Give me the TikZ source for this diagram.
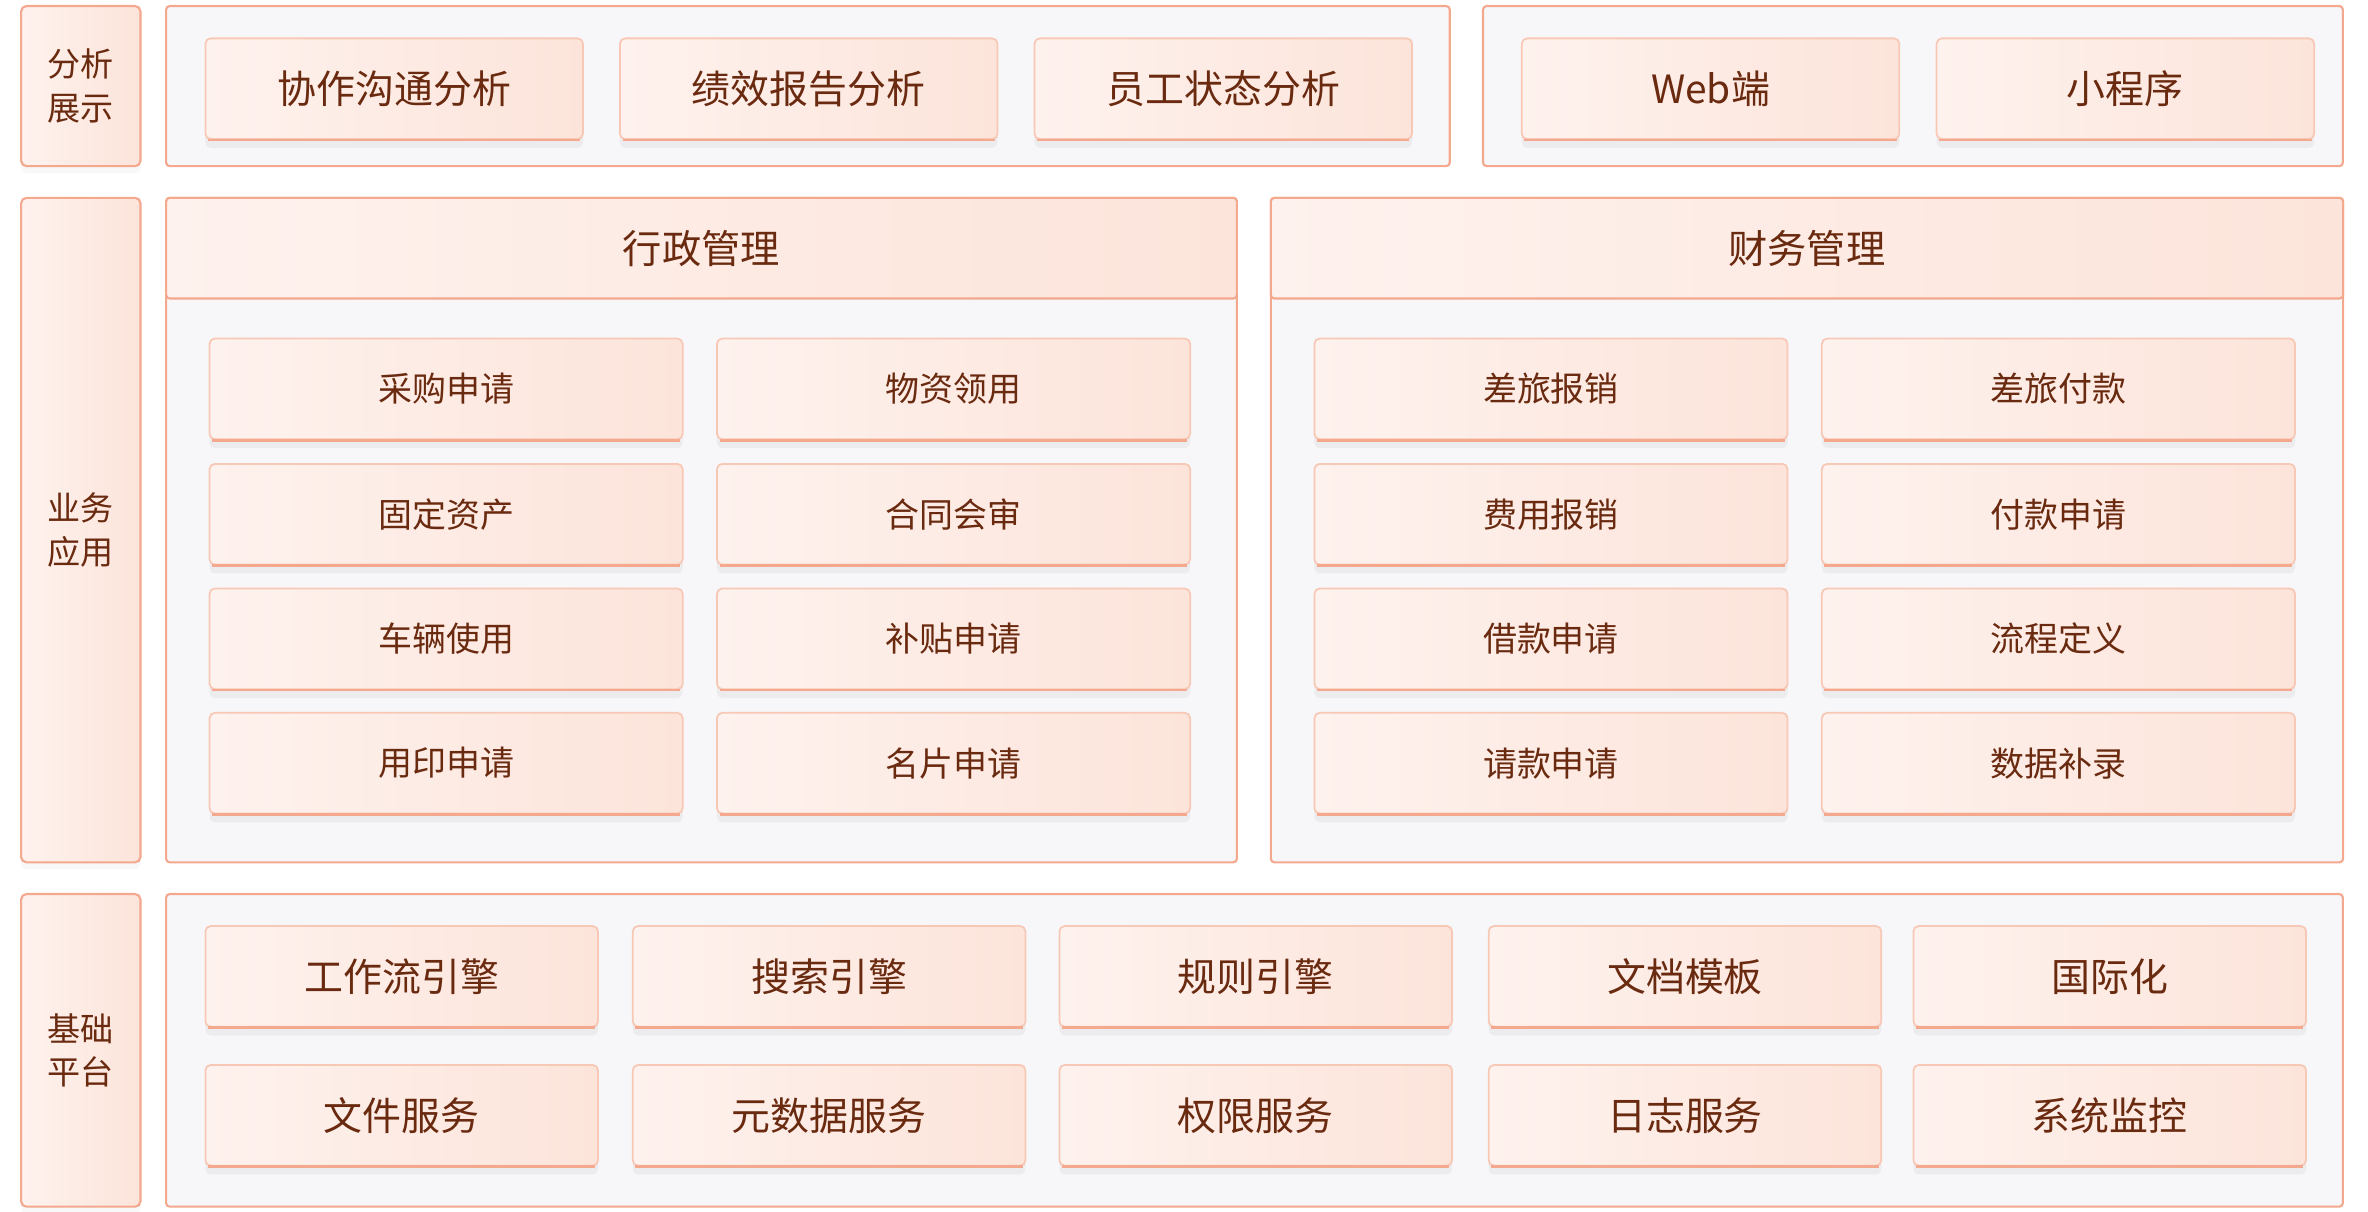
\documentclass[tikz,border=0pt]{standalone}
\usepackage{fontspec}
\newfontfamily\cjk{Noto Sans CJK SC}
\usetikzlibrary{shadows}

\definecolor{edgeline}{HTML}{F4A88E}
\definecolor{cardline}{HTML}{F8C8B6}
\definecolor{panelbg}{HTML}{F7F7F9}
\definecolor{cardA}{HTML}{FEF2EE}
\definecolor{cardB}{HTML}{FCE4DA}
\definecolor{ink}{HTML}{6A2A10}

\tikzset{
  panel/.style={draw=edgeline, fill=panelbg, rounded corners=1pt, inner sep=0pt},
  side/.style={draw=edgeline, left color=cardA, right color=cardB, rounded corners=1.5pt,
    minimum width=1.185cm, inner sep=0pt, align=center, text=ink,
    font=\cjk\fontsize{9.35}{12.4}\selectfont,
    drop shadow={opacity=.06, shadow xshift=0pt, shadow yshift=-2pt}},
  head/.style={draw=edgeline, left color=cardA, right color=cardB, rounded corners=1pt,
    minimum height=1cm, inner sep=0pt, text=ink, font=\cjk\fontsize{11.1}{13}\selectfont},
  card/.style={draw=cardline, line width=.5pt, left color=cardA, right color=cardB,
    rounded corners=1.5pt, inner sep=0pt, minimum height=1cm, text=ink,
    drop shadow={opacity=.09, shadow xshift=0pt, shadow yshift=-2.5pt},
    append after command={(\tikzlastnode.south west) edge[draw=edgeline, line width=.8pt,
      shorten <=1pt, shorten >=1pt] (\tikzlastnode.south east)}},
  bigcard/.style={card, minimum width=3.75cm, font=\cjk\fontsize{11}{13}\selectfont},
  appcard/.style={card, minimum width=4.7cm, font=\cjk\fontsize{9.6}{12}\selectfont},
  basecard/.style={card, minimum width=3.9cm, font=\cjk\fontsize{11}{13}\selectfont},
}

\begin{document}
\begin{tikzpicture}[line width=.6pt]
        \useasboundingbox (0,0) rectangle (23.52,-12.03);
        \pgfmathsetmacro{\ya}{-0.855}
        \pgfmathsetmacro{\yb}{-5.265}
        \pgfmathsetmacro{\yc}{-10.4325}
        \pgfmathsetmacro{\ra}{-3.8625}
        \pgfmathsetmacro{\rb}{-5.1075}
        \pgfmathsetmacro{\rc}{-6.345}
        \pgfmathsetmacro{\rd}{-7.58}

        % left column
        \node[side, minimum height=1.59cm] (S1) at (0.8025,\ya) {分析\\展示};
        \node[side, minimum height=6.6cm] (S2) at (0.8025,\yb) {业务\\应用};
        \node[side, minimum height=3.105cm] (S3) at (0.8025,\yc) {基础\\平台};

        % panels
        \node[panel, minimum width=12.75cm, minimum height=1.59cm] (P1) at (8.025,\ya) {};
        \node[panel, minimum width=8.54cm, minimum height=1.59cm] (P2) at (19.0,\ya) {};
        \node[panel, minimum width=10.635cm, minimum height=6.6cm] (P3) at (6.9675,\yb) {};
        \node[panel, minimum width=10.65cm, minimum height=6.6cm] (P4) at (17.9475,\yb) {};
        \node[panel, minimum width=21.62cm, minimum height=3.105cm] (P5) at (12.46,\yc) {};

        \node[head, minimum width=10.635cm, anchor=north] (H1) at (P3.north) {行政管理};
        \node[head, minimum width=10.65cm, anchor=north] (H2) at (P4.north) {财务管理};

        % analysis
        \node[bigcard] (A1) at (3.915,-0.881) {协作沟通分析};
        \node[bigcard] (A2) at (8.0325,-0.881) {绩效报告分析};
        \node[bigcard] (A3) at (12.15,-0.881) {员工状态分析};
        \node[bigcard] (A4) at (16.99,-0.881) {Web端};
        \node[bigcard] (A5) at (21.11,-0.881) {小程序};

        % admin
        \node[appcard] (X1) at (4.431,\ra) {采购申请};
        \node[appcard] (X2) at (9.471,\ra) {物资领用};
        \node[appcard] (X3) at (4.431,\rb) {固定资产};
        \node[appcard] (X4) at (9.471,\rb) {合同会审};
        \node[appcard] (X5) at (4.431,\rc) {车辆使用};
        \node[appcard] (X6) at (9.471,\rc) {补贴申请};
        \node[appcard] (X7) at (4.431,\rd) {用印申请};
        \node[appcard] (X8) at (9.471,\rd) {名片申请};

        % finance
        \node[appcard] (F1) at (15.405,\ra) {差旅报销};
        \node[appcard] (F2) at (20.445,\ra) {差旅付款};
        \node[appcard] (F3) at (15.405,\rb) {费用报销};
        \node[appcard] (F4) at (20.445,\rb) {付款申请};
        \node[appcard] (F5) at (15.405,\rc) {借款申请};
        \node[appcard] (F6) at (20.445,\rc) {流程定义};
        \node[appcard] (F7) at (15.405,\rd) {请款申请};
        \node[appcard] (F8) at (20.445,\rd) {数据补录};

        % base
        \node[basecard] (B1) at (3.99,-9.6975) {工作流引擎};
        \node[basecard] (B2) at (8.235,-9.6975) {搜索引擎};
        \node[basecard] (B3) at (12.4725,-9.6975) {规则引擎};
        \node[basecard] (B4) at (16.736,-9.6975) {文档模板};
        \node[basecard] (B5) at (20.955,-9.6975) {国际化};
        \node[basecard] (B6) at (3.99,-11.0775) {文件服务};
        \node[basecard] (B7) at (8.235,-11.0775) {元数据服务};
        \node[basecard] (B8) at (12.4725,-11.0775) {权限服务};
        \node[basecard] (B9) at (16.736,-11.0775) {日志服务};
        \node[basecard] (B10) at (20.955,-11.0775) {系统监控};
      \end{tikzpicture}
\end{document}
